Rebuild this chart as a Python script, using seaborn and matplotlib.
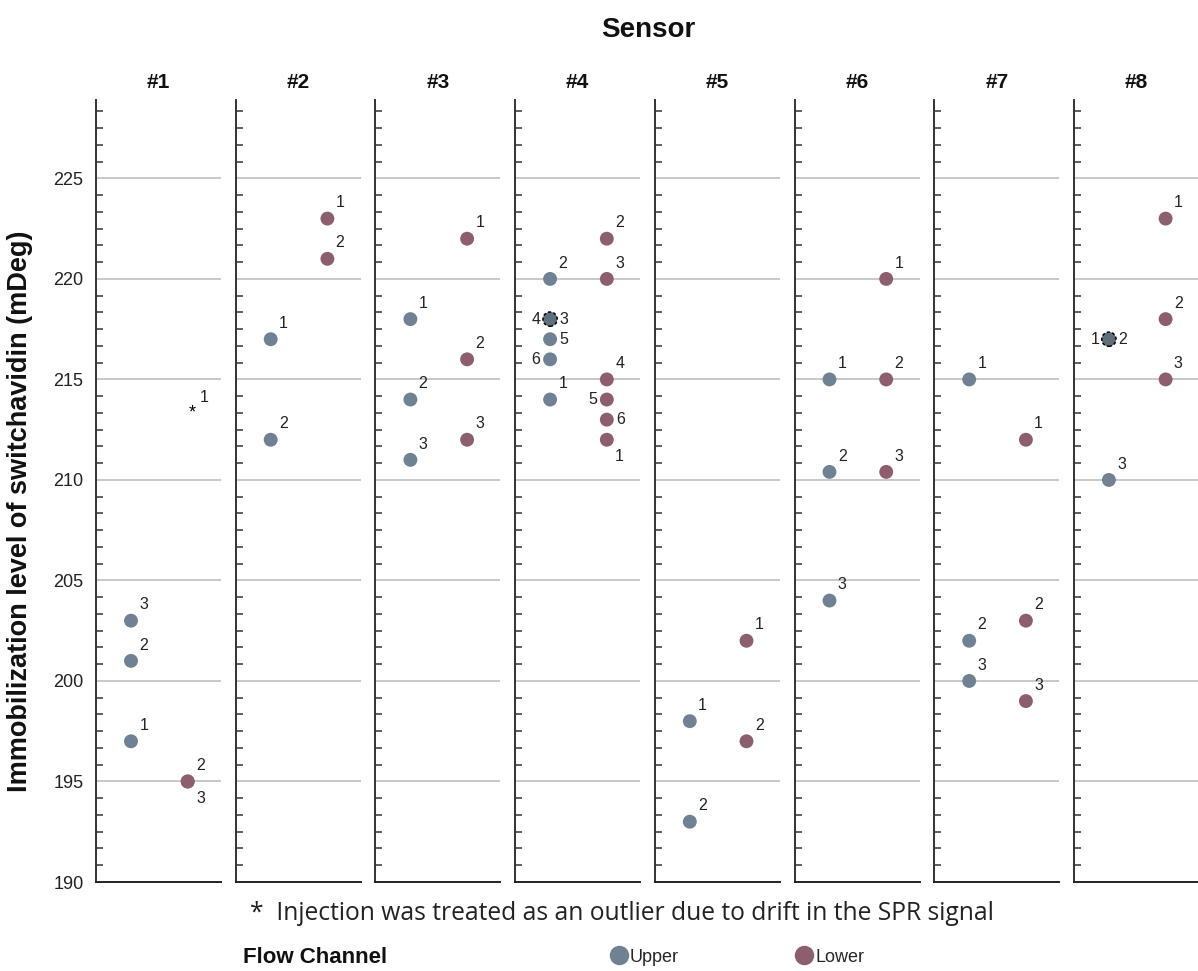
import matplotlib
matplotlib.use("Agg")
import matplotlib.pyplot as plt
from matplotlib.ticker import MultipleLocator
from matplotlib.lines import Line2D
import seaborn as sns
import pandas as pd

sns.set_theme(style="white")
plt.rcParams['font.family'] = ['Liberation Sans', 'DejaVu Sans']

# ---------------- data ----------------
sensors = ["#1", "#2", "#3", "#4", "#5", "#6", "#7", "#8"]
channels = ["Upper", "Lower"]

sensor_col = (["#1"] * 5 + ["#2"] * 4 + ["#3"] * 6 + ["#4"] * 12 + ["#5"] * 4 +
              ["#6"] * 6 + ["#7"] * 6 + ["#8"] * 6)
channel_col = (["Upper"] * 3 + ["Lower"] * 2 +
               ["Upper"] * 2 + ["Lower"] * 2 +
               ["Upper"] * 3 + ["Lower"] * 3 +
               ["Upper"] * 6 + ["Lower"] * 6 +
               ["Upper"] * 2 + ["Lower"] * 2 +
               ["Upper"] * 3 + ["Lower"] * 3 +
               ["Upper"] * 3 + ["Lower"] * 3 +
               ["Upper"] * 3 + ["Lower"] * 3)
injection_col = ([1, 2, 3, 2, 3] +
                 [1, 2, 1, 2] +
                 [1, 2, 3, 1, 2, 3] +
                 [1, 2, 3, 4, 5, 6, 1, 2, 3, 4, 5, 6] +
                 [1, 2, 1, 2] +
                 [1, 2, 3, 1, 2, 3] +
                 [1, 2, 3, 1, 2, 3] +
                 [1, 2, 3, 1, 2, 3])
value_col = ([197, 201, 203, 195, 195] +
             [217, 212, 223, 221] +
             [218, 214, 211, 222, 216, 212] +
             [214, 220, 218, 218, 217, 216, 212, 222, 220, 215, 214, 213] +
             [198, 193, 202, 197] +
             [215, 210.4, 204, 220, 215, 210.4] +
             [215, 202, 200, 212, 203, 199] +
             [217, 217, 210, 223, 218, 215])
# label placement around each point: ur=upper right, r=right, l=left, br=below right
label_pos = (["ur", "ur", "ur", "ur", "br"] +
             ["ur"] * 4 +
             ["ur"] * 6 +
             ["ur", "ur", "r", "l", "r", "l", "br", "ur", "ur", "ur", "l", "r"] +
             ["ur"] * 4 +
             ["ur"] * 6 +
             ["ur"] * 6 +
             ["l", "r", "ur", "ur", "ur", "ur"])

# outlier (drift) injection
outlier_sensor = ["#1"]
outlier_channel = ["Lower"]
outlier_injection = [1]
outlier_value = [213.4]

df = pd.DataFrame({"sensor": sensor_col, "channel": channel_col,
                   "injection": injection_col, "value": value_col,
                   "pos": label_pos})

palette = {"Upper": "#6f8193", "Lower": "#8d5e6e"}

# ---------------- figure ----------------
W, H = 1198, 971
fig = plt.figure(figsize=(W / 100, H / 100), dpi=100)

left0, step, pw = 96, 139.7, 125
bottom_px, top_px = 882, 100
ymin, ymax = 190, 228.9

offsets = {"ur": (6, 6, "left", "bottom"), "r": (7, 0, "left", "center"),
           "l": (-7, 0, "right", "center"), "br": (6, -7, "left", "top")}

axes = []
for i, s in enumerate(sensors):
    l = (left0 + i * step) / W
    ax = fig.add_axes([l, (H - bottom_px) / H, pw / W, (bottom_px - top_px) / H])
    axes.append(ax)
    sub = df[df["sensor"] == s]
    sns.stripplot(data=sub, x="channel", y="value", hue="channel",
                  order=channels, hue_order=channels, palette=palette,
                  jitter=False, size=10, linewidth=0, ax=ax, legend=False,
                  zorder=3)
    # overlapping injections: darker dashed-edged marker
    dup = sub[sub.duplicated(["channel", "value"], keep=False) & (sub["channel"] == "Upper")]
    for (ch, v), g in dup.groupby(["channel", "value"]):
        ax.scatter([channels.index(ch)], [v], s=105, color="#5f6e7b",
                   edgecolor="black", linewidth=1.1, linestyle=(0, (2, 1.5)), zorder=4)
    for _, r in sub.iterrows():
        dx, dy, ha, va = offsets[r["pos"]]
        ax.annotate(str(r["injection"]), (channels.index(r["channel"]), r["value"]),
                    xytext=(dx, dy), textcoords="offset points", ha=ha, va=va,
                    fontsize=11.5, color="#222222", zorder=5)
    # outlier star
    for os_, oc, oi, ov in zip(outlier_sensor, outlier_channel, outlier_injection, outlier_value):
        if os_ == s:
            xo = channels.index(oc)
            ax.annotate("*", (xo, ov), xytext=(3, -1), textcoords="offset points",
                        ha="center", va="center", fontsize=13, color="black", zorder=5)
            ax.annotate(str(oi), (xo, ov), xytext=(9, 5), textcoords="offset points",
                        ha="left", va="bottom", fontsize=11.5, color="#222222", zorder=5)

    ax.set_xlim(-0.617, 1.587)
    ax.set_ylim(ymin, ymax)
    ax.set_xlabel("")
    ax.set_ylabel("")
    ax.set_xticks([])
    ax.yaxis.set_major_locator(MultipleLocator(5))
    ax.yaxis.set_minor_locator(MultipleLocator(5 / 6))
    ax.tick_params(axis="y", which="major", length=0, pad=9, labelsize=13,
                   labelcolor="#222222", labelleft=(i == 0))
    ax.tick_params(axis="y", which="minor", direction="in", length=5, width=1.2,
                   color="#444444", left=True)
    for yv in range(195, 226, 5):
        ax.axhline(yv, color="#c4c4c4", lw=1.3, zorder=1)
    for sp in ["top", "right"]:
        ax.spines[sp].set_visible(False)
    ax.spines["left"].set_color("#333333")
    ax.spines["left"].set_linewidth(1.4)
    ax.spines["bottom"].set_color("#222222")
    ax.spines["bottom"].set_linewidth(1.4)
    ax.set_facecolor("white")
    ax.text(0.5, 1.023, s, transform=ax.transAxes, ha="center", va="center",
            fontsize=15, fontweight="bold", color="#111111")
    if i != 0:
        ax.set_yticklabels([])

fig.text(648 / W, 1 - 30 / H, "Sensor", ha="center", va="center",
         fontsize=20, fontweight="bold", color="#111111")
fig.text(20 / W, 1 - 511 / H, "Immobilization level of switchavidin (mDeg)",
         rotation=90, ha="center", va="center", fontsize=19.5, fontweight="bold",
         color="#111111")
fig.text(622 / W, 1 - 913 / H,
         "*  Injection was treated as an outlier due to drift in the SPR signal",
         ha="center", va="center", fontsize=17.7, color="#222222",
         family=["Open Sans", "DejaVu Sans"])
fig.text(315 / W, 1 - 957 / H, "Flow Channel", ha="center", va="center",
         fontsize=16, fontweight="bold", color="#111111")
handles = [Line2D([0], [0], marker="o", linestyle="", markersize=14,
                  markerfacecolor=palette[c], markeredgewidth=0) for c in channels]
fig.legend(handles, channels, loc="center left",
           bbox_to_anchor=(610 / W, 1 - 957 / H), ncol=2, frameon=False,
           handletextpad=0.1, columnspacing=6.45, fontsize=13,
           handlelength=1.0, borderpad=0, borderaxespad=0)

fig.savefig("out.png", dpi=100, facecolor="white")
